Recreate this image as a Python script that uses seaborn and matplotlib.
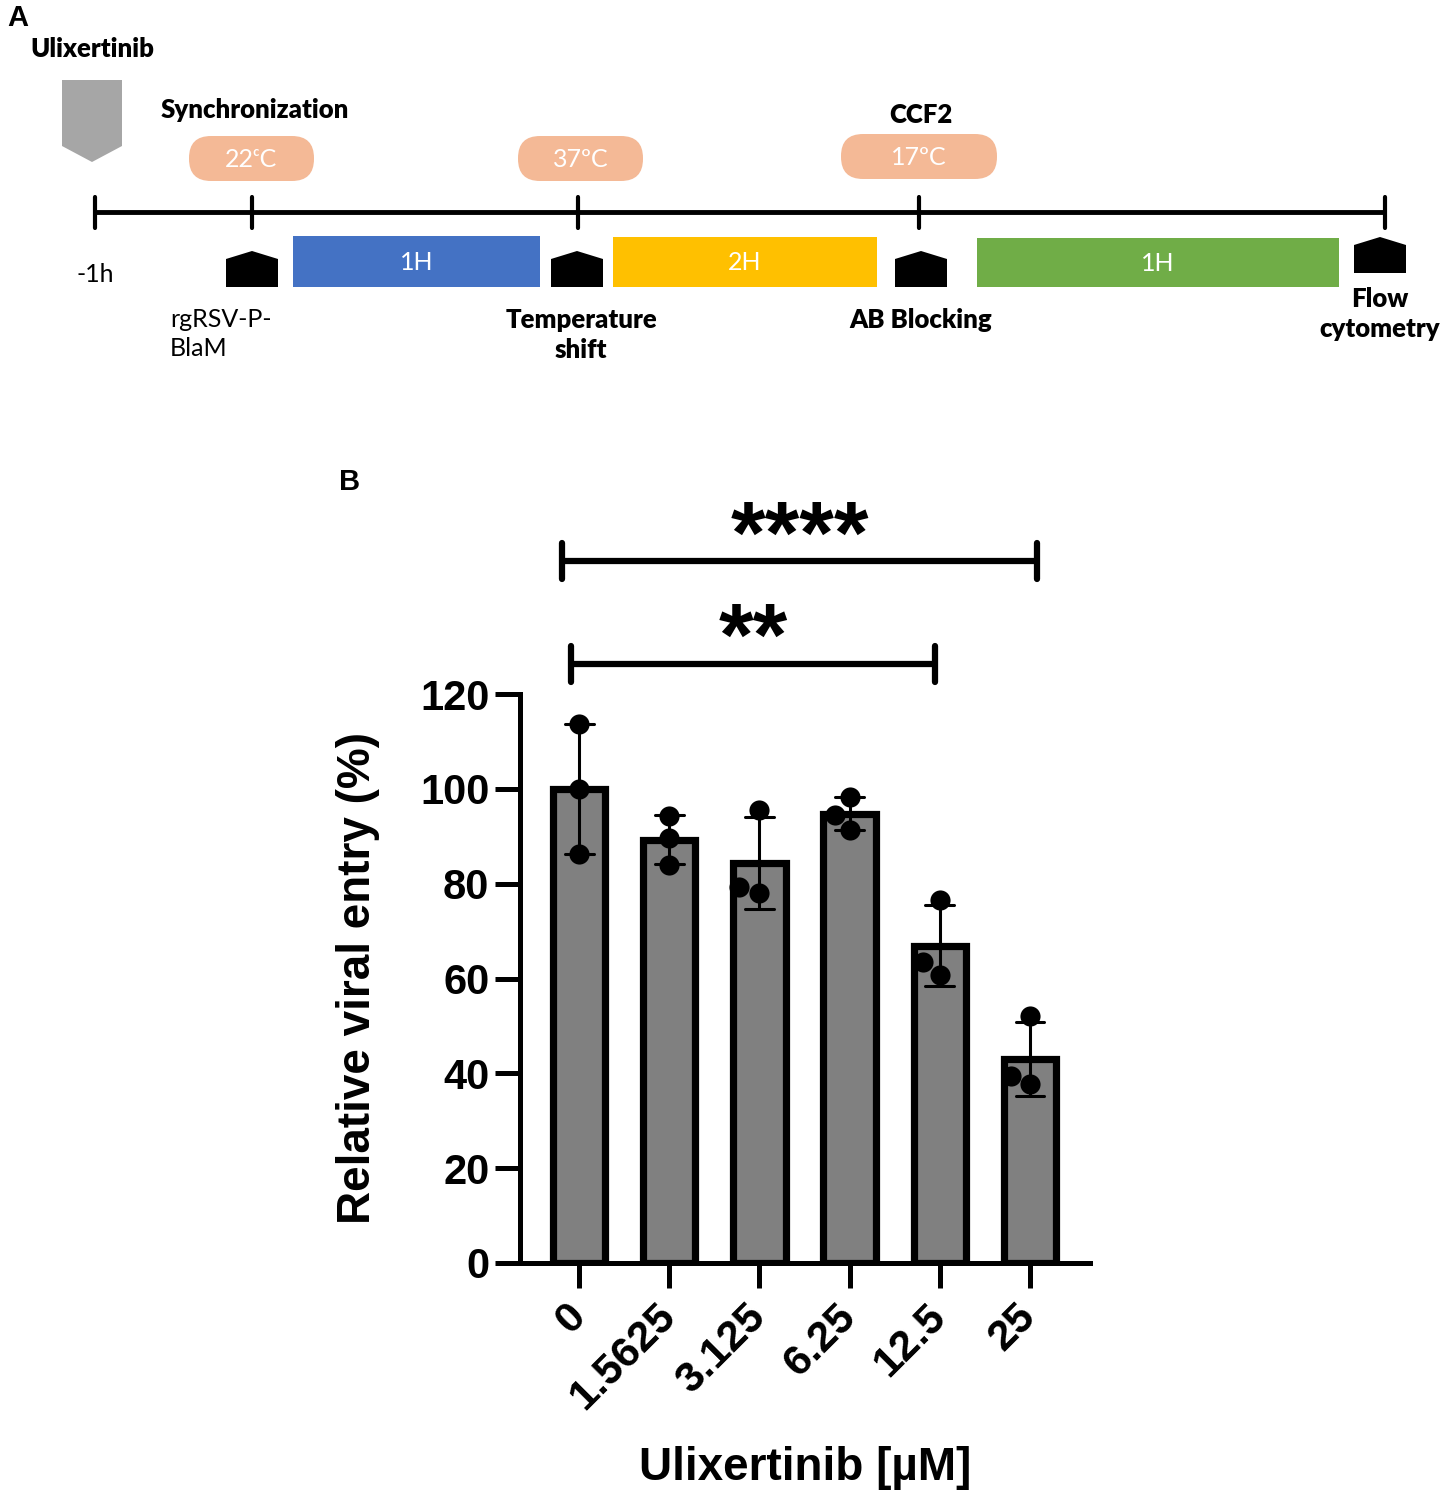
import numpy as np
import pandas as pd
import seaborn as sns
import matplotlib.pyplot as plt
from matplotlib.patches import FancyBboxPatch, Polygon, Rectangle

sns.set_style("ticks")
plt.rcParams['font.family'] = ['Liberation Sans', 'DejaVu Sans']
for key in ["text.color", "axes.labelcolor", "xtick.color", "ytick.color", "axes.edgecolor"]:
    plt.rcParams[key] = "black"

# ---- data (panel B) ----
doses = ["0", "1.5625", "3.125", "6.25", "12.5", "25"]
rep1 = [113.7, 94.2, 95.6, 98.3, 76.6, 52.0]
rep2 = [100.0, 89.7, 78.1, 91.4, 60.8, 37.7]
rep3 = [86.3, 84.0, 79.4, 94.5, 63.4, 39.4]
yticks = [0, 20, 40, 60, 80, 100, 120]
sig_labels = ["****", "**"]
sig_pairs = [(0, 5), (0, 4)]

# ---- timeline text (panel A) ----
tick_x = [95, 252, 578, 919, 1385]
pill_labels = ["22ᶜC", "37ºC", "17ºC"]
phase_labels = ["1H", "2H", "1H"]
phase_colors = ["#4472C4", "#FFC000", "#70AD47"]
step_labels = ["rgRSV-P-\nBlaM", "Temperature\nshift", "AB Blocking", "Flow\ncytometry"]

df = pd.DataFrame({
    "dose": doses * 3,
    "value": rep1 + rep2 + rep3,
})

fig = plt.figure(figsize=(14.45, 14.99), dpi=100)

# ================= Panel A: timeline =================
axa = fig.add_axes([0, 1 - 400 / 1499, 1, 400 / 1499])
axa.set_xlim(0, 1445)
axa.set_ylim(400, 0)
axa.axis("off")

tl_font = ['Lato', 'DejaVu Sans']
bold_fs = 18.5
norm_fs = 18
axa.plot([tick_x[0], tick_x[-1]], [212, 212], color="black", lw=3.5, solid_capstyle="butt")
for tx in tick_x:
    axa.plot([tx, tx], [197, 228], color="black", lw=3)

# drug arrow
axa.add_patch(Polygon([(62, 80), (122, 80), (122, 146), (92, 162), (62, 146)],
                      closed=True, color="#A6A6A6", lw=0))
axa.text(92, 49, "Ulixertinib", ha="center", va="center", fontsize=bold_fs,
         fontweight="heavy", family=tl_font)
axa.text(255, 110, "Synchronization", ha="center", va="center", fontsize=bold_fs,
         fontweight="heavy", family=tl_font)
axa.text(921, 115, "CCF2", ha="center", va="center", fontsize=bold_fs,
         fontweight="heavy", family=tl_font)

# temperature pills
pill_boxes = [(189, 136, 125, 45), (518, 136, 125, 45), (841, 134, 156, 45)]
for (px, py, pw, ph), lab in zip(pill_boxes, pill_labels):
    axa.add_patch(FancyBboxPatch((px, py), pw, ph,
                                 boxstyle="round,pad=0,rounding_size=22",
                                 fc="#F4B996", ec="none"))
    axa.text(px + pw / 2, py + ph / 2 + 1, lab, ha="center", va="center",
             fontsize=norm_fs, color="white", family=tl_font)

# phase boxes
phase_boxes = [(293, 236, 247, 51), (613, 237, 264, 50), (977, 238, 362, 49)]
for (bx, by, bw, bh), lab, col in zip(phase_boxes, phase_labels, phase_colors):
    axa.add_patch(Rectangle((bx, by), bw, bh, fc=col, ec="none"))
    axa.text(bx + bw / 2, by + bh / 2 + 1, lab, ha="center", va="center",
             fontsize=norm_fs, color="white", family=tl_font)

# black step markers
houses = [(252, 251, 287), (577, 251, 287), (921, 251, 287), (1380, 237, 273)]
for cx, top, bot in houses:
    axa.add_patch(Polygon([(cx - 26, bot), (cx - 26, top + 8), (cx, top),
                           (cx + 26, top + 8), (cx + 26, bot)],
                          closed=True, color="black", lw=0))

axa.text(95, 274, "-1h", ha="center", va="center", fontsize=norm_fs, family=tl_font)
axa.text(170, 334, step_labels[0], ha="left", va="center", fontsize=norm_fs,
         family=tl_font, linespacing=1.3)
axa.text(581, 335, step_labels[1], ha="center", va="center", fontsize=bold_fs,
         fontweight="heavy", family=tl_font, linespacing=1.3)
axa.text(921, 320, step_labels[2], ha="center", va="center", fontsize=bold_fs,
         fontweight="heavy", family=tl_font)
axa.text(1380, 314, step_labels[3], ha="center", va="center", fontsize=bold_fs,
         fontweight="heavy", family=tl_font, linespacing=1.3)

fig.text(18 / 1445, 1 - 18 / 1499, "A", ha="center", va="center", fontsize=21,
         fontweight="bold")
fig.text(350 / 1445, 1 - 482 / 1499, "B", ha="center", va="center", fontsize=21,
         fontweight="bold")

# ================= Panel B: bar chart =================
ax = fig.add_axes([520 / 1445, 1 - 1263 / 1499, 570 / 1445, 569 / 1499])

sns.barplot(data=df, x="dose", y="value", order=doses, errorbar="sd",
            color="#808080", saturation=1, width=0.58, edgecolor="black",
            linewidth=5.2, capsize=0.32,
            err_kws={"color": "black", "linewidth": 2.2}, ax=ax, zorder=2)
sns.swarmplot(data=df, x="dose", y="value", order=doses, color="black",
              size=14.5, ax=ax, zorder=3)

ax.set_xlim(-0.655, 5.665)
ax.set_ylim(0, 120)
ax.set_yticks(yticks)
sns.despine(ax=ax)
for side in ["left", "bottom"]:
    ax.spines[side].set_linewidth(3.6)
ax.tick_params(axis="both", width=3.6, length=18, labelsize=30, pad=4)
for lab in ax.get_yticklabels():
    lab.set_fontweight("bold")
ax.set_xticks(range(len(doses)))
ax.set_xticklabels(doses, rotation=45, ha="right", va="center",
                   rotation_mode="anchor", fontweight="bold", fontsize=31)
for lab in ax.get_xticklabels():
    lab.set_y(-0.03)

ax.set_ylabel("Relative viral entry (%)", fontsize=33, fontweight="bold")
ax.yaxis.set_label_coords(-0.245, 0.5)
ax.set_xlabel("Ulixertinib [µM]", fontsize=33, fontweight="bold")
ax.xaxis.set_label_coords(0.5, -0.322)

# significance brackets
bracket_y = [148, 126.4]
bracket_inset = [(-0.19, 0.08), (-0.09, -0.05)]
for (i, j), lab, by, (l_off, r_off) in zip(sig_pairs, sig_labels, bracket_y, bracket_inset):
    x0, x1 = i + l_off, j + r_off
    ax.plot([x0, x1], [by, by], color="black", lw=4.5, clip_on=False,
            solid_capstyle="butt")
    for xx in (x0, x1):
        ax.plot([xx, xx], [by - 3.8, by + 3.8], color="black", lw=4.5,
                clip_on=False, solid_capstyle="round")
    ax.text((x0 + x1) / 2, by - 0.3, lab, ha="center", va="baseline",
            fontsize=64, fontweight="bold", clip_on=False)

fig.savefig("out.png", dpi=100)
